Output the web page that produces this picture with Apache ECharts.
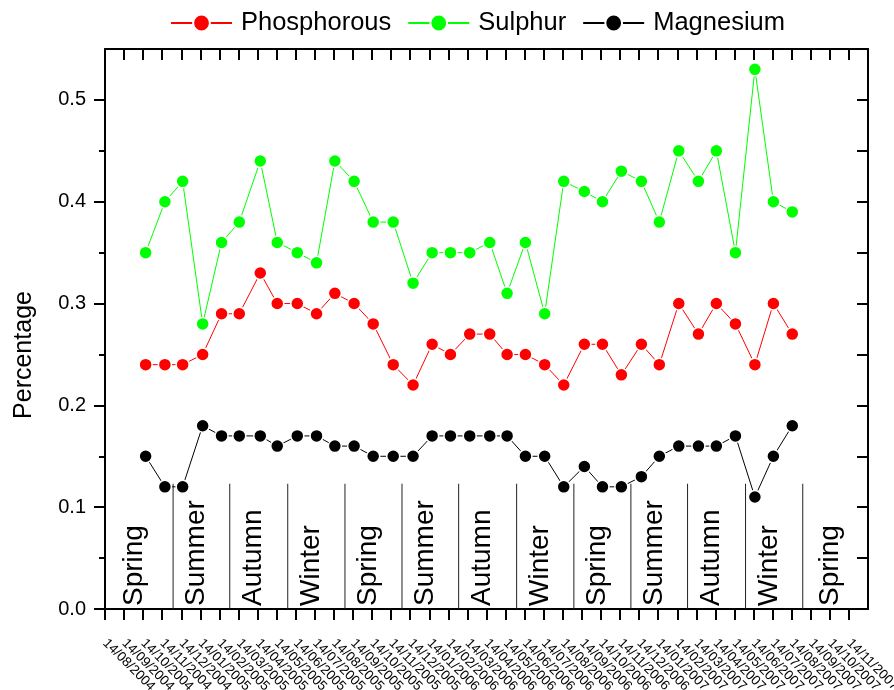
<!DOCTYPE html>
<html>
<head>
<meta charset="utf-8">
<script src="https://cdn.jsdelivr.net/npm/echarts@6/dist/echarts.min.js"></script>
<style>html,body{margin:0;padding:0;background:#fff;}#chart{width:894px;height:690px;}</style>
</head>
<body>
<div id="chart"></div>
<script>
// Monthly tick labels (bottom axis)
const dateLabels = [
  '14/08/2004','14/09/2004','14/10/2004','14/11/2004','14/12/2004',
  '14/01/2005','14/02/2005','14/03/2005','14/04/2005','14/05/2005','14/06/2005',
  '14/07/2005','14/08/2005','14/09/2005','14/10/2005','14/11/2005','14/12/2005',
  '14/01/2006','14/02/2006','14/03/2006','14/04/2006','14/05/2006','14/06/2006',
  '14/07/2006','14/08/2006','14/09/2006','14/10/2006','14/11/2006','14/12/2006',
  '14/01/2007','14/02/2007','14/03/2007','14/04/2007','14/05/2007','14/06/2007',
  '14/07/2007','14/08/2007','14/09/2007','14/10/2007','14/11/2007'
];
// Sample positions, in months after 14/08/2004
const sampleMonth = [2.13,3.14,4.07,5.12,6.11,7.04,8.14,9.03,10.08,11.09,12.05,13.06,14.06,15.11,16.15,17.15,18.11,19.12,20.17,21.08,22.04,23.05,24.05,25.13,26.08,27.07,28.12,29.06,30.08,31.11,32.05,33.05,34.07,35.04,36.03];
const phosphorous = [0.24,0.24,0.24,0.25,0.29,0.29,0.33,0.30,0.30,0.29,0.31,0.30,0.28,0.24,0.22,0.26,0.25,0.27,0.27,0.25,0.25,0.24,0.22,0.26,0.26,0.23,0.26,0.24,0.30,0.27,0.30,0.28,0.24,0.30,0.27];
const sulphur = [0.35,0.40,0.42,0.28,0.36,0.38,0.44,0.36,0.35,0.34,0.44,0.42,0.38,0.38,0.32,0.35,0.35,0.35,0.36,0.31,0.36,0.29,0.42,0.41,0.40,0.43,0.42,0.38,0.45,0.42,0.45,0.35,0.53,0.40,0.39];
const magnesium = [0.15,0.12,0.12,0.18,0.17,0.17,0.17,0.16,0.17,0.17,0.16,0.16,0.15,0.15,0.15,0.17,0.17,0.17,0.17,0.17,0.15,0.15,0.12,0.14,0.12,0.12,0.13,0.15,0.16,0.16,0.16,0.17,0.11,0.15,0.18];
// Seasons (boundaries in months after 14/08/2004)
const seasonNames = ['Spring','Summer','Autumn','Winter','Spring','Summer','Autumn','Winter','Spring','Summer','Autumn','Winter','Spring'];
const seasonBounds = [0,3.57,6.54,9.58,12.58,15.57,18.54,21.58,24.58,27.57,30.54,33.58,36.58,40];
const seasonLineTop = 0.123;
// Y ticks
const yMajor = [0,0.1,0.2,0.3,0.4,0.5];
const yMinor = [0.05,0.15,0.25,0.35,0.45];
const yRight = [0.05,0.1,0.15,0.2,0.25,0.3,0.35,0.4,0.45,0.5];

const FONT = '"Liberation Sans", Arial, Helvetica, sans-serif';
const monthIdx = dateLabels.map((d, i) => i);
const evenIdx = monthIdx.filter(i => i % 2 === 0);
const oddIdx = monthIdx.filter(i => i % 2 === 1);
const topIdx = monthIdx.slice(1);
const pairs = arr => arr.map((v, i) => [sampleMonth[i], v]);
const seasonData = seasonNames.map((n, i) => [seasonBounds[i], seasonBounds[i + 1], i]);

const chart = echarts.init(document.getElementById('chart'), null, {renderer: 'canvas'});
const black = '#000';
const xLabelStyle = {
  showMinLabel: true, showMaxLabel: true, hideOverlap: false,
  formatter: v => dateLabels[Math.round(v)] || '', rotate: -45, margin: 32,
  fontSize: 13.5, color: black, fontFamily: FONT
};
function lineSeries(name, color, data) {
  return {
    name, type: 'line', data: pairs(data), xAxisIndex: 0, yAxisIndex: 0,
    symbol: 'circle', symbolSize: 13, showSymbol: true, z: 3,
    lineStyle: {color, width: 1},
    itemStyle: {color, borderColor: '#fff', borderWidth: 1.5},
    emphasis: {disabled: true}
  };
}
chart.setOption({
  animation: false,
  backgroundColor: '#fff',
  textStyle: {fontFamily: FONT},
  grid: {left: 105, right: 26, top: 49, bottom: 81, containLabel: false, outerBoundsMode: 'none'},
  legend: {
    data: ['Phosphorous', 'Sulphur', 'Magnesium'],
    left: 165, top: 5, itemWidth: 61, itemHeight: 21, itemGap: 16,
    textStyle: {fontSize: 25.5, color: black, fontFamily: FONT, padding: [0, 0, 0, 4]}
  },
  xAxis: [
    {
      type: 'value', position: 'bottom', min: 0, max: 40,
      axisLine: {onZero: false, lineStyle: {color: black, width: 2}},
      axisTick: {show: true, inside: false, length: 11, customValues: monthIdx, lineStyle: {color: black, width: 2}},
      axisLabel: Object.assign({customValues: evenIdx}, xLabelStyle),
      splitLine: {show: false}
    },
    {
      type: 'value', position: 'top', min: 0, max: 40,
      axisLine: {onZero: false, lineStyle: {color: black, width: 2}},
      axisTick: {show: true, inside: true, length: 11, customValues: topIdx, lineStyle: {color: black, width: 2}},
      axisLabel: {show: false},
      splitLine: {show: false}
    },
    {
      type: 'value', position: 'bottom', offset: 0, min: 0, max: 40,
      axisLine: {show: false, onZero: false},
      axisTick: {show: false},
      axisLabel: Object.assign({customValues: oddIdx}, xLabelStyle),
      splitLine: {show: false}
    }
  ],
  yAxis: [
    {
      type: 'value', position: 'left', min: 0, max: 0.55,
      axisLine: {show: true, onZero: false, lineStyle: {color: black, width: 2}},
      axisTick: {show: true, inside: false, length: 11, customValues: yMajor, lineStyle: {color: black, width: 2}},
      axisLabel: {customValues: yMajor, showMinLabel: true, formatter: v => v.toFixed(1), fontSize: 20, margin: 19, color: black, fontFamily: FONT},
      splitLine: {show: false},
      name: 'Percentage', nameLocation: 'middle', nameGap: 68,
      nameTextStyle: {fontSize: 25, color: black, fontFamily: FONT, padding: [0, 52, 0, 0]}
    },
    {
      type: 'value', position: 'left', min: 0, max: 0.55,
      axisLine: {show: false},
      axisTick: {show: true, inside: false, length: 6, customValues: yMinor, lineStyle: {color: black, width: 2}},
      axisLabel: {show: false},
      splitLine: {show: false}
    },
    {
      type: 'value', position: 'right', min: 0, max: 0.55,
      axisLine: {show: true, onZero: false, lineStyle: {color: black, width: 2}},
      axisTick: {show: true, inside: true, length: 11, customValues: yRight, lineStyle: {color: black, width: 2}},
      axisLabel: {show: false},
      splitLine: {show: false}
    }
  ],
  series: [
    {
      name: 'seasons', type: 'custom', xAxisIndex: 0, yAxisIndex: 0, z: 1,
      data: seasonData, silent: true,
      encode: {x: [0, 1], y: 2},
      renderItem: function (params, api) {
        const s = api.value(0), e = api.value(1);
        const p0 = api.coord([s, 0]);
        const pt = api.coord([s, seasonLineTop]);
        const pe = api.coord([e, 0]);
        const children = [];
        if (s > 0) {
          children.push({type: 'line', shape: {x1: p0[0], y1: p0[1], x2: p0[0], y2: pt[1]}, style: {stroke: '#222', lineWidth: 1}});
        }
        children.push({
          type: 'text', x: (p0[0] + pe[0]) / 2 - 5, y: p0[1] - 3, rotation: Math.PI / 2,
          style: {text: seasonNames[params.dataIndex], fill: black, font: '28px ' + FONT, align: 'left', verticalAlign: 'middle'}
        });
        return {type: 'group', children};
      }
    },
    lineSeries('Phosphorous', '#ff0000', phosphorous),
    lineSeries('Sulphur', '#00ff00', sulphur),
    lineSeries('Magnesium', '#000000', magnesium)
  ]
});
</script>
</body>
</html>
